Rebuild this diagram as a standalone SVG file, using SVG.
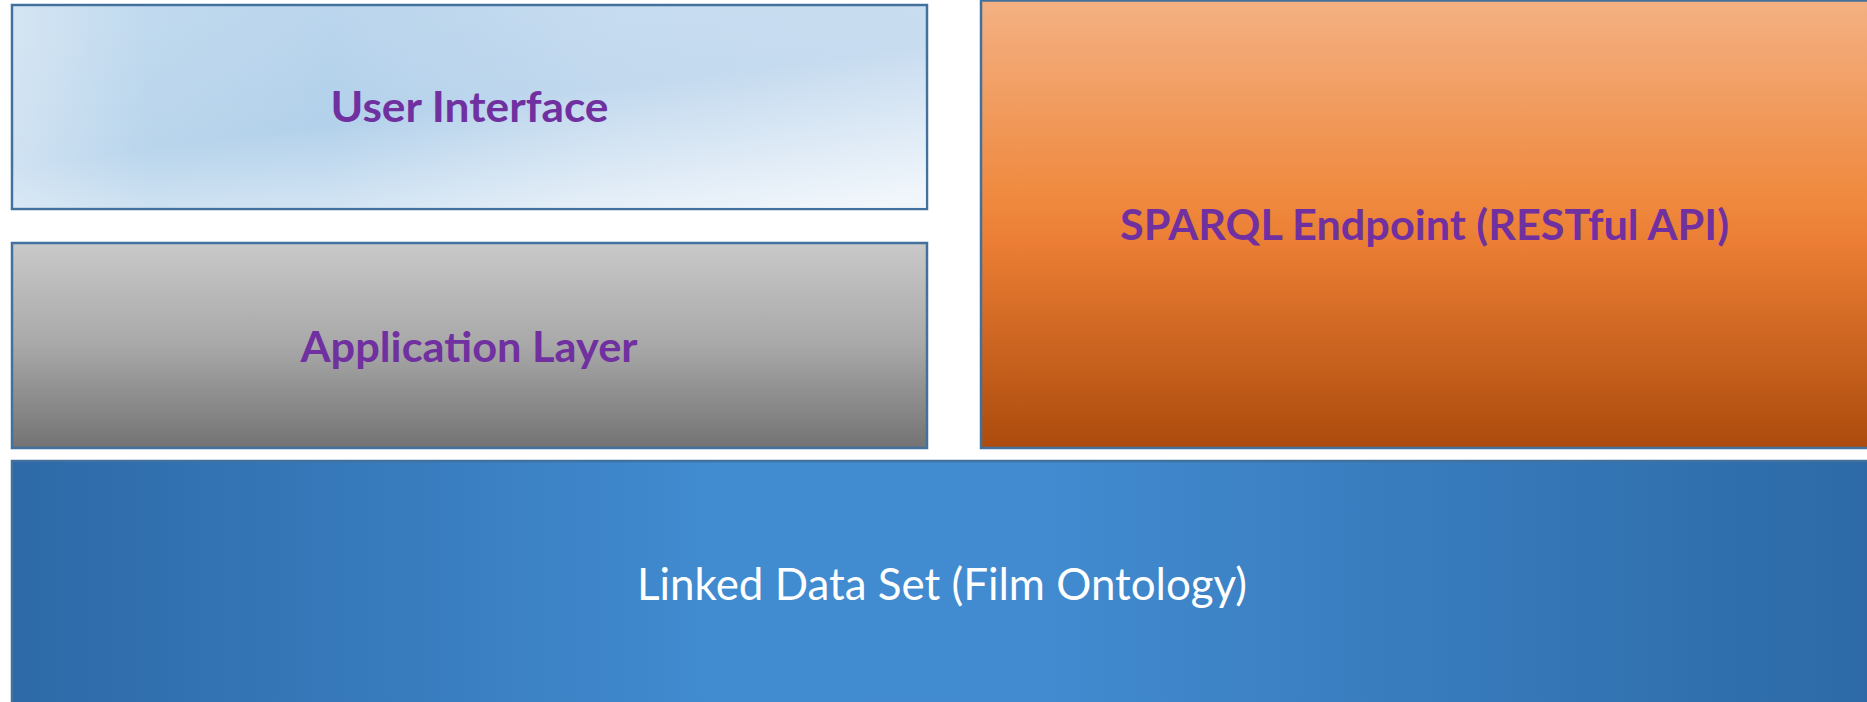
<svg xmlns="http://www.w3.org/2000/svg" width="1867" height="702" viewBox="0 0 1867 702">
<style>
.box{stroke:#41719c;stroke-width:2.5}
.lbl{font-family:Lato,"Open Sans","Liberation Sans",sans-serif;font-weight:bold;font-size:42px;fill:#7030a0;text-anchor:middle}
.lbl2{font-family:Lato,"Open Sans","Liberation Sans",sans-serif;font-size:45px;fill:#ffffff;text-anchor:middle}
</style>
<defs>
<linearGradient id="gUI" x1="0" y1="0" x2="1" y2="0">
<stop offset="0" stop-color="#d0e2f2"/>
<stop offset="0.15" stop-color="#b9d5ec"/>
<stop offset="0.35" stop-color="#b3d1eb"/>
<stop offset="0.65" stop-color="#c2d9ee"/>
<stop offset="1" stop-color="#c8dcf0"/>
</linearGradient>
<linearGradient id="gUItop" x1="0.3" y1="0" x2="0.9" y2="1">
<stop offset="0" stop-color="#ffffff" stop-opacity="0.1"/>
<stop offset="0.45" stop-color="#ffffff" stop-opacity="0"/>
<stop offset="1" stop-color="#ffffff" stop-opacity="0.75"/>
</linearGradient>
<linearGradient id="gApp" x1="0" y1="0" x2="0" y2="1">
<stop offset="0" stop-color="#c9c9c9"/>
<stop offset="0.5" stop-color="#a8a8a8"/>
<stop offset="1" stop-color="#737373"/>
</linearGradient>
<linearGradient id="gSp" x1="0" y1="0" x2="0" y2="1">
<stop offset="0" stop-color="#f4b183"/>
<stop offset="0.45" stop-color="#ef883d"/>
<stop offset="0.55" stop-color="#ea7d33"/>
<stop offset="1" stop-color="#ac4b0d"/>
</linearGradient>
<linearGradient id="gLD" x1="0" y1="0" x2="1" y2="0">
<stop offset="0" stop-color="#2d69a7"/>
<stop offset="0.38" stop-color="#418bd0"/>
<stop offset="0.55" stop-color="#428bd0"/>
<stop offset="1" stop-color="#2c69a6"/>
</linearGradient>
</defs>
<rect width="1867" height="702" fill="#ffffff"/>
<g id="connectors"></g>
<g id="user-interface">
<rect class="box" x="12" y="5" width="915" height="204" fill="url(#gUI)"/>
<rect x="13" y="6" width="913" height="202" fill="url(#gUItop)"/>
<text class="lbl" x="469.5" y="122" textLength="278" lengthAdjust="spacingAndGlyphs">User Interface</text>
</g>
<g id="application-layer">
<rect class="box" x="12" y="243" width="915" height="205" fill="url(#gApp)"/>
<text class="lbl" x="469" y="362" textLength="337" lengthAdjust="spacingAndGlyphs">Application Layer</text>
</g>
<g id="sparql-endpoint">
<rect class="box" x="981" y="0.5" width="890" height="447.5" fill="url(#gSp)"/>
<text class="lbl" x="1424.5" y="240" textLength="609" lengthAdjust="spacingAndGlyphs">SPARQL Endpoint (RESTful API)</text>
</g>
<g id="linked-data-set">
<rect class="box" x="12" y="461" width="1862" height="250" fill="url(#gLD)"/>
<text class="lbl2" x="942" y="600" textLength="610" lengthAdjust="spacingAndGlyphs">Linked Data Set (Film Ontology)</text>
</g>
</svg>
